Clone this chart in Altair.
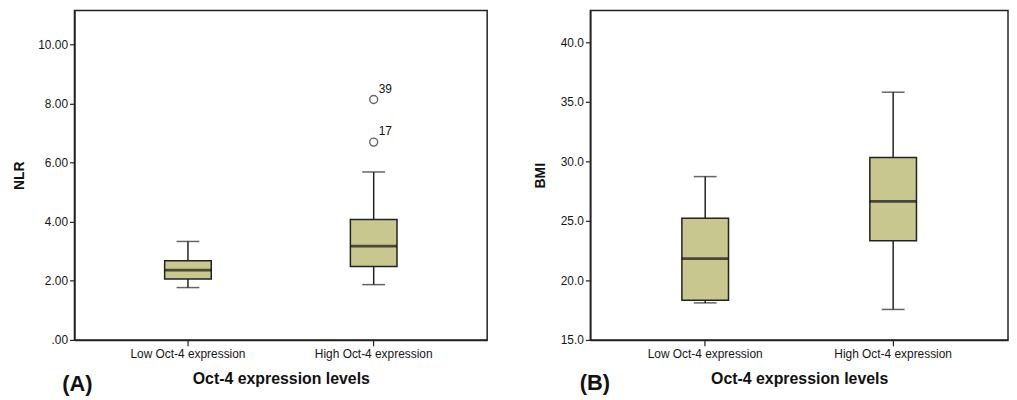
import altair as alt
import pandas as pd

groups = ["Low Oct-4 expression", "High Oct-4 expression"]

# Panel A: NLR
nlr_whisker_low = [1.77, 1.87]
nlr_q1 = [2.06, 2.48]
nlr_median = [2.36, 3.17]
nlr_q3 = [2.68, 4.07]
nlr_whisker_high = [3.33, 5.68]
nlr_outlier_group = ["High Oct-4 expression", "High Oct-4 expression"]
nlr_outlier_values = [8.13, 6.69]
nlr_outlier_ids = ["39", "17"]
nlr_ticks = [0, 2, 4, 6, 8, 10]

# Panel B: BMI
bmi_whisker_low = [18.11, 17.56]
bmi_q1 = [18.33, 23.33]
bmi_median = [21.83, 26.64]
bmi_q3 = [25.22, 30.33]
bmi_whisker_high = [28.72, 35.81]
bmi_ticks = [15, 20, 25, 30, 35, 40]

FONT = "Liberation Sans, Arial, Helvetica, sans-serif"
INK = "#222222"
FILL = "#c7c78f"


def panel(wl, q1, med, q3, wh, out_g, out_v, out_id, ytitle, domain, ticks,
          label_expr, width, title_x, letter, letter_x, letter_y):
    df = pd.DataFrame({"group": groups, "wl": wl, "q1": q1, "med": med,
                       "q3": q3, "wh": wh})
    yscale = alt.Scale(domain=domain, nice=False, zero=False)
    yaxis = alt.Axis(values=ticks, labelExpr=label_expr, grid=False,
                     tickSize=5, labelPadding=2, labelFontSize=12,
                     labelColor="#151515", titleFontSize=14, titleFontWeight="bold",
                     titleColor="#111", titleX=title_x, titleBaseline="middle",
                     titleAngle=-90, domainColor=INK, tickColor=INK,
                     domainWidth=1.5, tickWidth=1.2,
                     labelFont=FONT, titleFont=FONT)
    xenc = alt.X("group:N", sort=groups,
                 scale=alt.Scale(paddingInner=0, paddingOuter=0.111),
                 axis=alt.Axis(title="Oct-4 expression levels", labelAngle=0,
                               tickSize=6, labelPadding=3, titlePadding=11,
                               labelFontSize=12, labelColor="#151515",
                               titleFontSize=16, titleFontWeight="bold",
                               titleColor="#111", domainColor=INK,
                               domainWidth=1.5, tickWidth=1.2,
                               tickColor=INK, labelFont=FONT, titleFont=FONT))

    def Y(f):
        return alt.Y(f, title=ytitle, scale=yscale, axis=yaxis)

    base = alt.Chart(df)
    whisk = base.mark_rule(color=INK, strokeWidth=1.5).encode(
        x=xenc, y=Y("wl:Q"), y2="wh:Q")
    box = base.mark_bar(size=47, color=FILL, stroke=INK, strokeWidth=1.5).encode(
        x=xenc, y=Y("q1:Q"), y2="q3:Q")
    median = base.mark_tick(size=47, thickness=2.8, color="#111").encode(
        x=xenc, y=Y("med:Q"))
    cap_lo = base.mark_tick(size=23, thickness=1.5, color=INK).encode(
        x=xenc, y=Y("wl:Q"))
    cap_hi = base.mark_tick(size=23, thickness=1.5, color=INK).encode(
        x=xenc, y=Y("wh:Q"))
    layers = [whisk, box, median, cap_lo, cap_hi]
    if out_v:
        odf = pd.DataFrame({"group": out_g, "v": out_v, "id": out_id})
        pts = alt.Chart(odf).mark_point(shape="circle", filled=False, size=64,
                                        color=INK, strokeWidth=1.4).encode(
            x=xenc, y=Y("v:Q"))
        lab = alt.Chart(odf).mark_text(align="left", baseline="middle", dx=5,
                                       dy=-11, fontSize=12, font=FONT,
                                       color="#111").encode(
            x=xenc, y=Y("v:Q"), text="id:N")
        layers += [pts, lab]
    ldf = pd.DataFrame({"label": [letter]})
    letter_mark = alt.Chart(ldf).mark_text(
        align="center", baseline="middle", fontSize=22, fontWeight="bold",
        font=FONT, color="#111").encode(
        x=alt.value(letter_x), y=alt.value(letter_y), text="label:N")
    layers.append(letter_mark)
    return alt.layer(*layers).properties(width=width, height=332)


A = panel(nlr_whisker_low, nlr_q1, nlr_median, nlr_q3, nlr_whisker_high,
          nlr_outlier_group, nlr_outlier_values, nlr_outlier_ids, "NLR",
          [0, 11.14], nlr_ticks,
          "datum.value == 0 ? '.00' : format(datum.value, '.2f')",
          416, -55, "(A)", 3, 377)
B = panel(bmi_whisker_low, bmi_q1, bmi_median, bmi_q3, bmi_whisker_high,
          [], [], [], "BMI", [15, 42.67], bmi_ticks,
          "format(datum.value, '.1f')",
          421, -50, "(B)", 4.5, 375)

chart = alt.hconcat(A, B, spacing=45).properties(
    padding={"left": 4, "top": 0, "right": 0, "bottom": 0}
).configure(background="white").configure_view(stroke=INK, strokeWidth=1.5)

chart.save("out.html", embed_options={"renderer": "svg", "actions": False})
